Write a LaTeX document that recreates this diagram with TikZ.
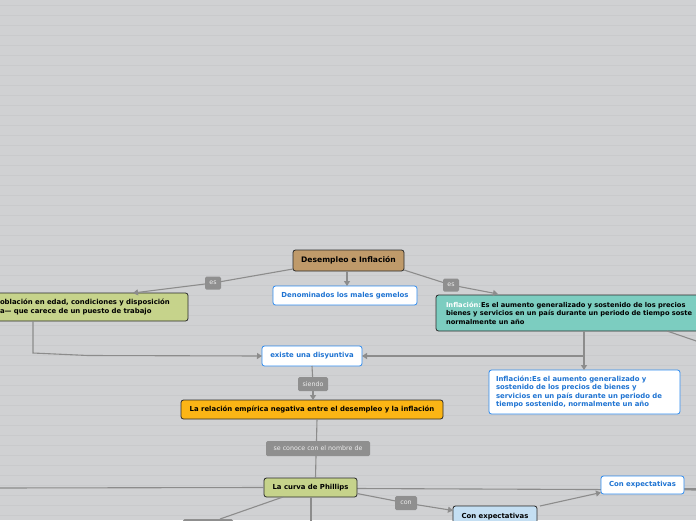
\documentclass[tikz,border=0pt]{standalone}
\usepackage{fontspec}
\setmainfont{DejaVu Sans}
\usetikzlibrary{arrows.meta}
\definecolor{bg}{HTML}{D0D1D3}
\definecolor{bgline}{HTML}{C9CACC}
\definecolor{tan}{HTML}{BF9A6A}
\definecolor{olive}{HTML}{C6D38B}
\definecolor{teal2}{HTML}{7CCDC0}
\definecolor{orng}{HTML}{FBB515}
\definecolor{lblue}{HTML}{C4DFF3}
\definecolor{wborder}{HTML}{2E8BEF}
\definecolor{wtext}{HTML}{1E73D2}
\definecolor{labfill}{HTML}{8F8F8F}
\definecolor{labtext}{HTML}{EDEDED}
\definecolor{conn}{HTML}{8C8C8C}
\definecolor{dborder}{HTML}{2A2A2A}
\tikzset{
  every node/.style={inner sep=0pt, outer sep=0pt},
  nbox/.style={draw=dborder, line width=0.8pt, rounded corners=2.5pt, font=\fontsize{6.9}{8.4}\selectfont\bfseries, text=black},
  wbox/.style={draw=wborder, fill=white, line width=0.8pt, rounded corners=2.5pt, font=\fontsize{6.9}{8.4}\selectfont\bfseries, text=wtext},
  lab/.style={fill=labfill, text=labtext, rounded corners=1.5pt, font=\fontsize{6.3}{7}\selectfont},
  cn/.style={draw=conn, line width=1.1pt},
  ar/.style={cn, -{Triangle[length=5pt,width=6pt]}},
}
\begin{document}
\begin{tikzpicture}[x=1pt,y=-1pt]
\useasboundingbox (0,0) rectangle (696,520);
\fill[bg] (0,0) rectangle (696,520);
\foreach \k in {0,...,51} {\draw[bgline, line width=0.6pt] (0,5.5+10*\k) -- (696,5.5+10*\k);}

% free ends
\coordinate (c1) at (33,353);
\coordinate (c2) at (88,355.5);
\coordinate (c3) at (584,356);
\coordinate (offR1) at (705,344);
\coordinate (offL) at (-5,488);
\coordinate (offR2) at (705,490);
\coordinate (offR3) at (705,489);
\coordinate (offB) at (311,530);

% lines drawn behind boxes
\draw[cn] (357,488.5) -- (offR2);
\draw[cn] (684,489) -- (offR3);

% nodes
\node[nbox, fill=tan, minimum width=111, minimum height=21, font=\fontsize{7.6}{9}\selectfont\bfseries] (title) at (348.5,260.5) {Desempleo e Inflación};
\node[wbox, minimum width=144, minimum height=19] (males) at (345,295.5) {Denominados los males gemelos};
\node[nbox, fill=olive, minimum width=196, minimum height=28, text width=180, inner xsep=8pt, align=left] (desemp) at (90,307) {oblación en edad, condiciones y disposición\\a— que carece de un puesto de trabajo};
\node[nbox, fill=teal2, minimum width=330, minimum height=36, text width=310, inner xsep=7pt, align=left, anchor=west, font=\fontsize{6.7}{8.4}\selectfont\bfseries] (infl) at (436,313) {\textcolor{white}{Inflación:}Es el aumento generalizado y sostenido de los precios\\bienes y servicios en un país durante un periodo de tiempo soste\\normalmente un año};
\node[wbox, minimum width=191, minimum height=44, text width=177, align=left] (infl2) at (584.5,392) {Inflación:Es el aumento generalizado y\\sostenido de los precios de bienes y\\servicios en un país durante un periodo de\\tiempo sostenido, normalmente un año};
\node[wbox, minimum width=100, minimum height=20] (disy) at (312,356) {existe una disyuntiva};
\node[nbox, fill=orng, minimum width=262, minimum height=19] (rel) at (312,409.5) {La relación empírica negativa entre el desempleo y la inflación};
\node[nbox, fill=olive, minimum width=93, minimum height=19] (curva) at (310.5,487.5) {La curva de Phillips};
\node[wbox, minimum width=83, minimum height=18] (ce1) at (642.5,485) {Con expectativas};
\node[nbox, fill=lblue, minimum width=84, minimum height=22] (ce2) at (495,517) {Con expectativas};
\node[lab, minimum width=50, minimum height=14] (lbot) at (208,526) {};

% labels
\node[lab, minimum width=16, minimum height=13] (es1) at (213,283) {es};
\node[lab, minimum width=16, minimum height=13] (es2) at (451,285) {es};
\node[lab, minimum width=30, minimum height=14] (siendo) at (313,384) {siendo};
\node[lab, minimum width=104, minimum height=15] (sec) at (318,448.5) {se conoce con el nombre de};
\node[lab, minimum width=22, minimum height=14] (con) at (406,503) {con};

% connectors
\draw[cn] (title.south west) ++(0,-2) -- (es1);
\draw[ar] (es1) -- (desemp.north -| 133,0);
\draw[cn] (title.south east) ++(0,-1) -- (es2);
\draw[ar] (es2) -- (498,294);
\draw[ar] (title.south -| 347,0) -- (males.north -| 347,0);
\draw[ar] (desemp.south -| c1) -- (c1) -- (c2) -- (disy.west);
\draw[ar] (infl.south -| c3) -- (c3) -- (disy.east);
\draw[ar] (c3) -- (infl2.north -| c3);
\draw[cn] (infl.south -| 667,0) -- (offR1);
\draw[cn] (disy.south) -- (siendo);
\draw[ar] (siendo) -- (rel.north -| siendo);
\draw[cn] (rel.south -| 317,0) -- (sec.north -| 316.5,0);
\draw[cn] (sec.south -| 316,0) -- (curva.north -| 315.5,0);
\draw[cn] (curva.west) -- (offL);
\draw[cn] (357,493.5) -- (con);
\draw[ar] (con) -- (ce2.north west |- 0,510.5);
\draw[ar] (540,506) -- (ce1.west |- 0,492.5);
\draw[cn] (283,497) -- (lbot.north -| 220,0);
\draw[cn] (curva.south -| 311,0) -- (offB);
\end{tikzpicture}
\end{document}
